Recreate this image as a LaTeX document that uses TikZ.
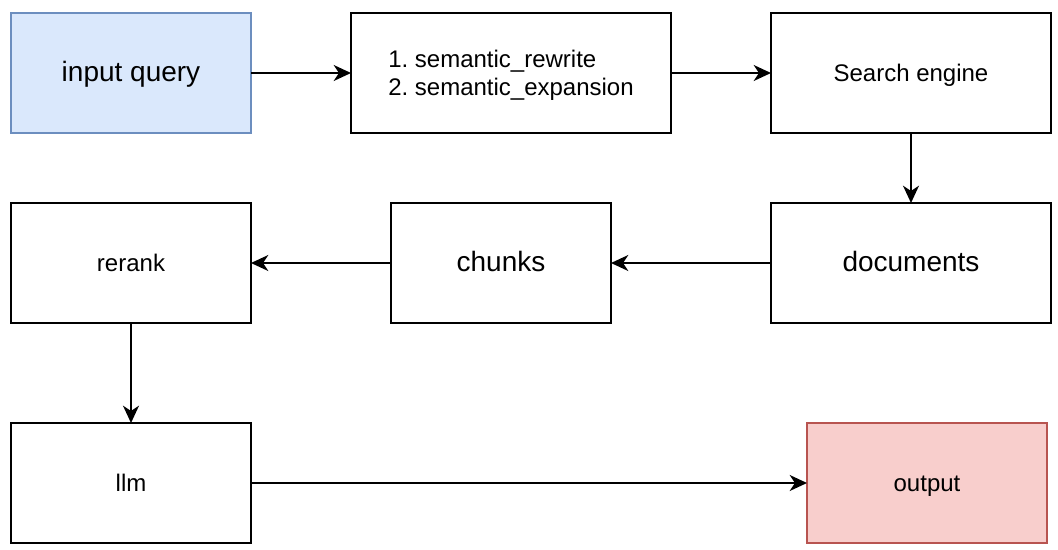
\documentclass[tikz,border=0pt]{standalone}
\usepackage{fontspec}
\setmainfont{Liberation Sans}
\usetikzlibrary{arrows.meta}
\frenchspacing

\definecolor{queryfill}{HTML}{DAE8FC}
\definecolor{queryline}{HTML}{6C8EBF}
\definecolor{outfill}{HTML}{F8CECC}
\definecolor{outline}{HTML}{B85450}

\begin{document}
\begin{tikzpicture}[x=0.75pt,y=-0.75pt,
	box/.style={draw,line width=1.5pt,inner sep=0pt,outer sep=0pt,minimum height=90pt,font=\fontsize{18}{21}\selectfont},
	oneline/.style={text height=12pt,text depth=0pt},
	bigtext/.style={font=\fontsize{21}{25}\selectfont,text height=13pt,text depth=0pt},
	flow/.style={->,line width=1.5pt},
	>={Stealth[length=13pt,width=12pt,inset=4pt]}]
	\useasboundingbox (0,0) rectangle (1058,550);
	
	%TOP ROW
	\node[box,bigtext,minimum width=180pt,fill=queryfill,draw=queryline] (query) at (131,73) {input query};
	\node[box,minimum width=240pt,align=left] (rewrite) at (511,73) {};
	\node[align=left,font=\fontsize{18}{21}\selectfont] (rewritetext) at (511,75) {1. semantic\_rewrite\\2. semantic\_expansion};
	\node[box,oneline,minimum width=210pt] (engine) at (911,73) {Search engine};
	
	%MIDDLE ROW
	\node[box,bigtext,minimum width=210pt] (docs) at (911,263) {documents};
	\node[box,bigtext,minimum width=165pt] (chunks) at (501,263) {chunks};
	\node[box,oneline,minimum width=180pt] (rerank) at (131,263) {rerank};
	
	%BOTTOM ROW
	\node[box,oneline,minimum width=180pt] (llm) at (131,483) {llm};
	\node[box,oneline,minimum width=180pt,fill=outfill,draw=outline] (output) at (927,483) {output};
	
	%ARROWS
	\draw[flow] (query)--(rewrite);
	\draw[flow] (rewrite)--(engine);
	\draw[flow] (engine)--(docs);
	\draw[flow] (docs)--(chunks);
	\draw[flow] (chunks)--(rerank);
	\draw[flow] (rerank)--(llm);
	\draw[flow] (llm)--(output);
\end{tikzpicture}
\end{document}
